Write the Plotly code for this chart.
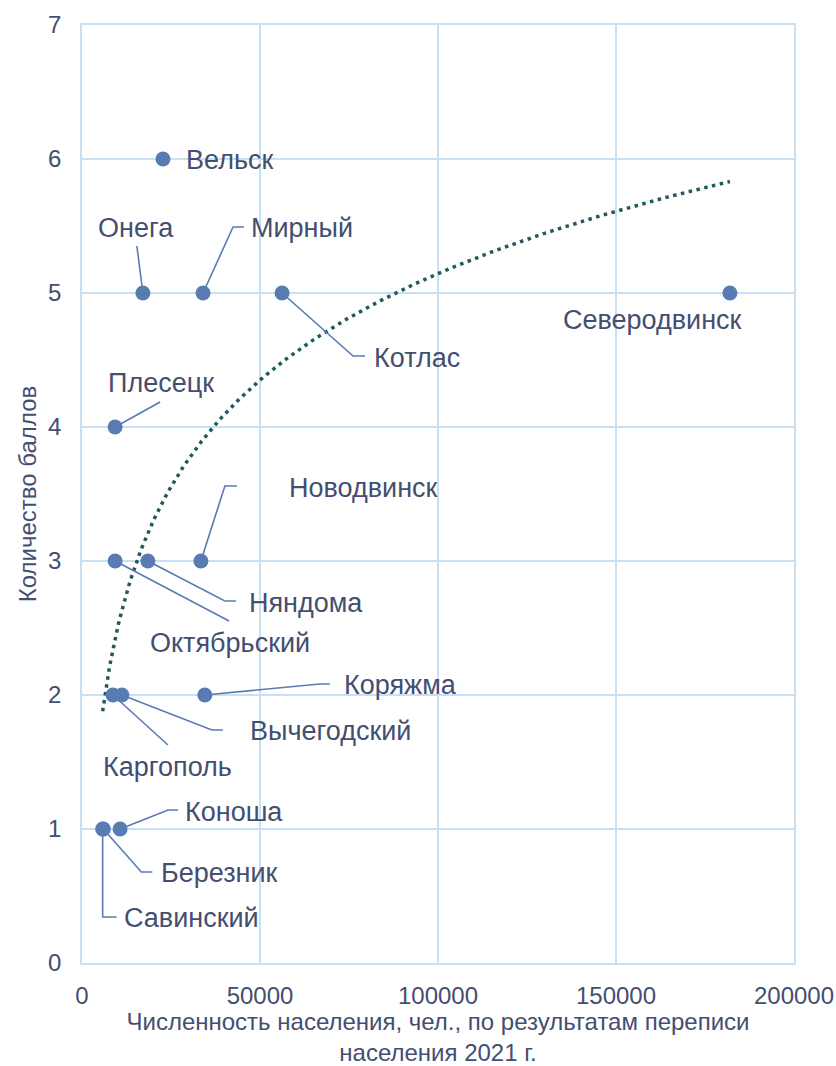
import numpy as np
import plotly.graph_objects as go

# ---- data ----
towns = ["Северодвинск", "Котлас", "Вельск", "Онега", "Мирный", "Новодвинск",
         "Коряжма", "Няндома", "Плесецк", "Октябрьский", "Каргополь",
         "Вычегодский", "Савинский", "Березник", "Коноша"]
population = [182000, 56200, 22750, 17100, 34000, 33400,
              34500, 18500, 9300, 9300, 8700,
              11200, 5800, 6000, 10700]
scores = [5, 5, 6, 5, 5, 3, 2, 3, 4, 3, 2, 2, 1, 1, 1]

x_ticks = [0, 50000, 100000, 150000, 200000]
y_ticks = [0, 1, 2, 3, 4, 5, 6, 7]

# ---- layout constants ----
W, H = 836, 1066
ML, MR, MT, MB = 82, 42, 25, 103
PW, PH = W - ML - MR, H - MT - MB
XMAX, YMAX = 200000, 7

TEXT = "#434E70"
DOT = "#587CB2"
GRID = "#C7E0F4"
TREND = "#1F5A5C"
FONT = "Liberation Sans, Arial, sans-serif"

# label placement (pixel offsets from point: label centre, leader path)
label_pos = {
    "Вельск":       ((67, 1), []),
    "Онега":        ((-7, -65), [(-6, -47)]),
    "Мирный":       ((99, -65), [(30, -66), (41, -66)]),
    "Котлас":       ((135, 65), [(71, 63), (83, 63)]),
    "Северодвинск": ((-77, 27), []),
    "Плесецк":      ((46, -44), [(45, -25)]),
    "Новодвинск":   ((163, -73), [(24, -75), (36, -75)]),
    "Няндома":      ((158, 42), [(77, 40), (88, 40)]),
    "Октябрьский":  ((115, 82), [(114, 60)]),
    "Каргополь":    ((55, 72), [(55, 50)]),
    "Вычегодский":  ((209, 36), [(90, 35), (101, 35)]),
    "Коряжма":      ((196, -10), [(115, -11), (125, -11)]),
    "Савинский":    ((89, 89), [(0, 88), (14, 88)]),
    "Березник":     ((116, 44), [(38, 43), (49, 43)]),
    "Коноша":       ((114, -17), [(48, -19), (58, -19)]),
}

def px_to_data(x, y, dx, dy):
    return x + dx * XMAX / PW, y - dy * YMAX / PH

fig = go.Figure()

# logarithmic trendline fitted from data
lx = np.log(np.array(population, dtype=float))
b, a = np.polyfit(lx, np.array(scores, dtype=float), 1)
xt = np.linspace(min(population), max(population), 400)
yt = a + b * np.log(xt)
fig.add_trace(go.Scatter(x=xt, y=yt, mode="lines",
                         line=dict(color=TREND, width=3.5, dash="3.5px,4.5px"),
                         hoverinfo="skip", showlegend=False))

# leader lines
for t, x, y in zip(towns, population, scores):
    (ldx, ldy), path = label_pos[t]
    if path:
        xs, ys = [x], [y]
        for dx, dy in path:
            px, py = px_to_data(x, y, dx, dy)
            xs.append(px)
            ys.append(py)
        fig.add_trace(go.Scatter(x=xs, y=ys, mode="lines",
                                 line=dict(color=DOT, width=1.6),
                                 hoverinfo="skip", showlegend=False))

# points
fig.add_trace(go.Scatter(x=population, y=scores, mode="markers",
                         marker=dict(color=DOT, size=15, line=dict(width=0)),
                         text=towns, showlegend=False))

for t, x, y in zip(towns, population, scores):
    (ldx, ldy), path = label_pos[t]
    fig.add_annotation(x=x, y=y, xref="x", yref="y", text=t, showarrow=False,
                       xshift=ldx, yshift=-ldy, xanchor="center", yanchor="middle",
                       font=dict(family=FONT, size=27, color=TEXT))

fig.update_layout(
    width=W, height=H,
    margin=dict(l=ML, r=MR, t=MT, b=MB, autoexpand=False),
    paper_bgcolor="white", plot_bgcolor="white",
    font=dict(family=FONT, size=24, color=TEXT),
    xaxis=dict(range=[0, XMAX], tickvals=x_ticks, ticktext=[str(v) for v in x_ticks],
               showgrid=True, gridcolor=GRID, gridwidth=1.5,
               showline=True, linecolor=GRID, linewidth=1.5, mirror=True,
               zeroline=False, ticks="", ticklabelstandoff=10, automargin=False,
               tickfont=dict(size=24, color=TEXT),
               title=dict(text="Численность населения, чел., по результатам переписи<br>населения 2021 г.",
                          font=dict(size=24, color=TEXT), standoff=17)),
    yaxis=dict(range=[0, YMAX], tickvals=y_ticks,
               showgrid=True, gridcolor=GRID, gridwidth=1.5,
               showline=True, linecolor=GRID, linewidth=1.5, mirror=True,
               zeroline=False, ticks="", ticklabelstandoff=14, automargin=False,
               tickfont=dict(size=24, color=TEXT),
               title=dict(text="Количество баллов", font=dict(size=24, color=TEXT),
                          standoff=5)),
)

fig.write_html("out.html", config={"displayModeBar": False},
               post_script="document.body.style.margin='0';document.body.style.overflow='hidden';")
